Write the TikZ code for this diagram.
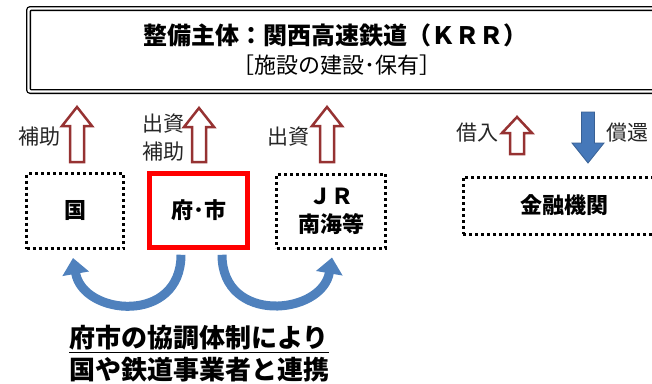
\documentclass[tikz,border=0pt]{standalone}
\usepackage{fontspec}
\setmainfont{Noto Sans CJK JP}
\usetikzlibrary{arrows.meta,calc}
\definecolor{hollowred}{RGB}{150,50,50}
\definecolor{curveblue}{RGB}{79,129,189}
\definecolor{downblue}{RGB}{70,120,185}
% block arrow: style, x, tip y, head base y, tail y, head half width, shaft half width
\newcommand{\blockarrow}[7]{%
  \draw[#1] (#2-#7,#5) -- (#2-#7,#4) -- (#2-#6,#4) -- (#2,#3)
    -- (#2+#6,#4) -- (#2+#7,#4) -- (#2+#7,#5) -- cycle;}

\begin{document}
\begin{tikzpicture}[
    x=1pt, y=-1pt,
    dotbox/.style={
        draw,
        line width=3pt,
        dash pattern=on 3pt off 3pt,
        font=\fontsize{22}{28}\selectfont\bfseries,
        align=center,
        inner sep=0pt
    },
    redbox/.style={
        draw=red,
        line width=4.5pt,
        font=\fontsize{22}{28}\selectfont\bfseries,
        inner sep=0pt
    },
    titlebox/.style={
        draw,
        double,
        line width=1.3pt,
        double distance=2.4pt,
        rounded corners=2pt
    },
    txtlabel/.style={font=\fontsize{21}{24}\selectfont, text=black!85, inner sep=0pt},
    hollow/.style={draw=hollowred, line width=2.5pt, fill=white},
    solidarrow/.style={draw=downblue!80!black, line width=0.8pt, fill=downblue},
    linkcurve/.style={draw=curveblue, line width=9pt, -{Triangle[width=26pt,length=16pt]}}
]
\useasboundingbox (0,0) rectangle (652,383);
\clip (0,0) rectangle (652,383);

% top box
\node[titlebox, minimum width=637pt, minimum height=83pt] (krr) at (347,50) {};
\node[font=\fontsize{24}{28}\selectfont\bfseries] (krrtitle) at (335,35) {整備主体：関西高速鉄道（ＫＲＲ）};
\node[font=\fontsize{22}{26}\selectfont] (krrsub) at (337,65) {［施設の建設･保有］};

% boxes
\node[dotbox, minimum width=97pt, minimum height=75pt] (kuni) at (75,211) {国};
\node[redbox, minimum width=98pt, minimum height=74pt] (fushi) at (198.5,210.5) {府･市};
\node[dotbox, minimum width=109pt, minimum height=74pt] (jr) at (331,211) {ＪＲ\\南海等};
\node[dotbox, minimum width=202pt, minimum height=57pt] (kinyu) at (564,205.5) {金融機関};

% funding arrows
\blockarrow{hollow}{77}{107}{126}{162}{15}{7}
\blockarrow{hollow}{199}{108}{127}{162}{15}{7}
\blockarrow{hollow}{327}{107}{126}{162}{15}{7}
\blockarrow{hollow}{517}{117}{133}{154}{15}{7}
\blockarrow{solidarrow}{588}{163}{143}{112}{16}{6.5}

\node[txtlabel] (hojo1) at (39,137) {補助};
\node[txtlabel] (shushi2) at (163,124) {出資};
\node[txtlabel] (hojo2) at (163,152) {補助};
\node[txtlabel] (shushi3) at (288,137) {出資};
\node[txtlabel] (kariire) at (477,133) {借入};
\node[txtlabel] (shokan) at (627,133) {償還};

% cooperation
\draw[linkcurve] ($(fushi.south)+(-17.5,5)$) .. controls +(0,70) and +(10,58) .. ($(kuni.south)+(-2,8)$);
\draw[linkcurve] ($(fushi.south)+(23.5,5)$) .. controls +(0,70) and +(-10,58) .. ($(jr.south)+(1,8)$);

\node[font=\fontsize{26}{32}\selectfont\bfseries, align=center] (kyocho) at (199,354)
  {\underline{府市の協調体制により}\\国や鉄道事業者と連携};

\end{tikzpicture}
\end{document}
